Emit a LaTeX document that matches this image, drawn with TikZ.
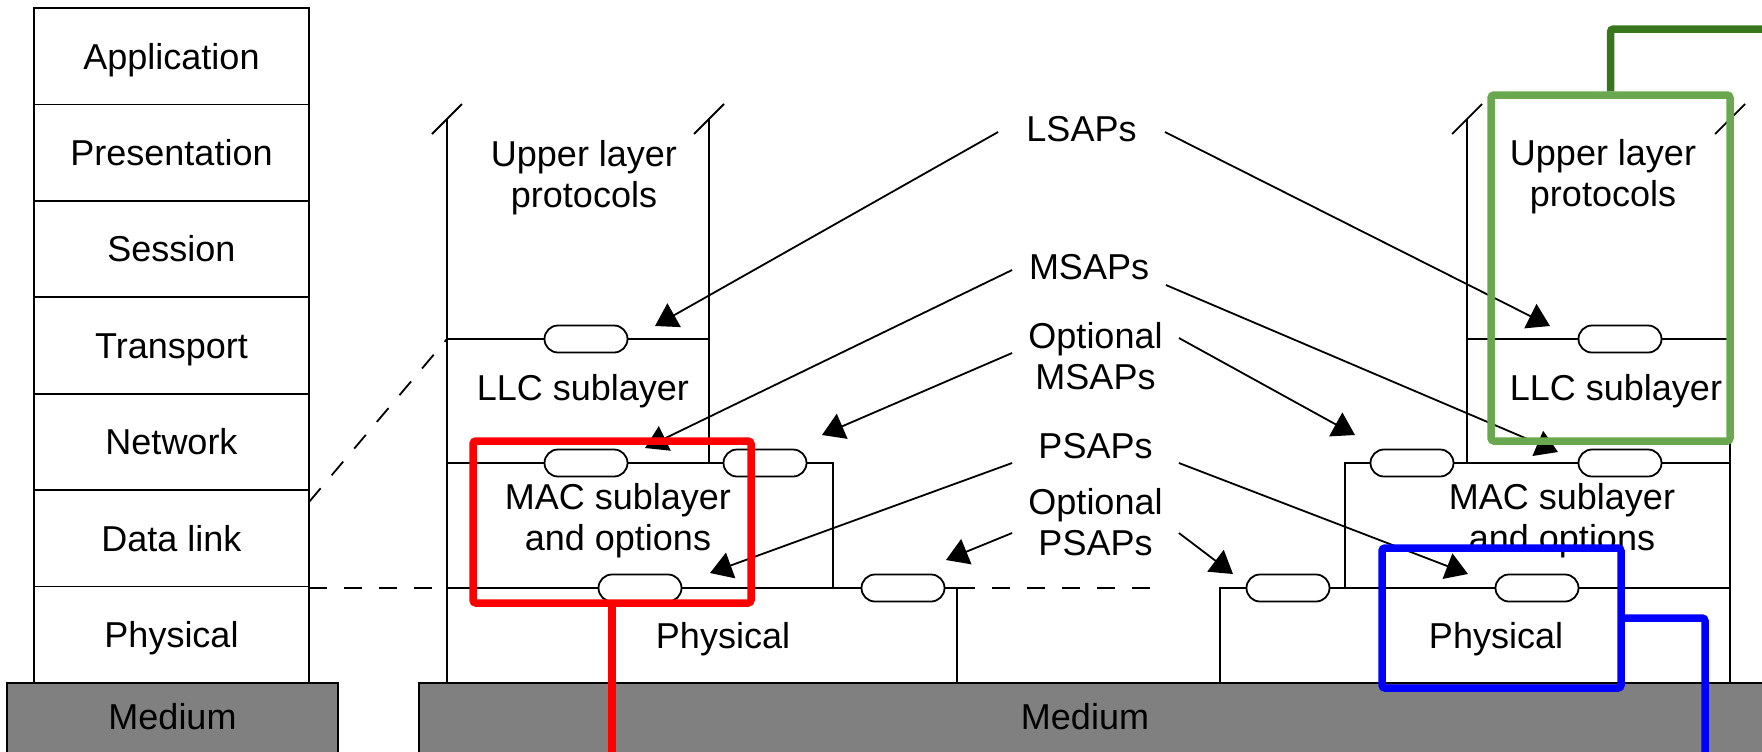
\documentclass[tikz,border=0pt]{standalone}
\usepackage{fontspec}
\setmainfont{Liberation Sans}
\usetikzlibrary{positioning,arrows.meta}

\definecolor{mediumgray}{RGB}{128,128,128}
\definecolor{boxgreen}{RGB}{106,168,79}
\definecolor{linegreen}{RGB}{56,118,29}

\tikzset{
  every node/.style={font=\fontsize{18}{20.5}\selectfont},
  layerrow/.style={draw,minimum width=137.5pt,minimum height=48.21pt,inner sep=0pt,outer sep=0pt,text height=12.9pt,text depth=0pt},
  sap/.style={draw,fill=white,rounded corners=6.75pt,minimum width=41.5pt,minimum height=13.5pt,inner sep=0pt},
  sapname/.style={align=center,minimum width=82.5pt,inner sep=0pt},
  saparrow/.style={-{Triangle[length=11pt,width=13.5pt]}},
  medium/.style={draw,fill=mediumgray},
  dashline/.style={dash pattern=on 9pt off 8.5pt},
  hilite/.style={draw,line width=3.75pt,rounded corners=1.5pt,inner sep=0pt}
}

\begin{document}
\begin{tikzpicture}[x=0.5pt,y=-0.5pt,line width=0.9pt]
\useasboundingbox (0,0) rectangle (1762,751);
\clip (0,0) rectangle (1762,751);

% medium
\draw[medium] (7,683) rectangle (338,760);
\draw[medium] (419,683) rectangle (1775,760);
\node (medL) at (172.5,717) {Medium};
\node (medR) at (1085,717) {Medium};

% OSI stack
\node[layerrow] (app) at (171.5,56.2) {Application};
\node[layerrow,below=0pt of app] (pres) {Presentation};
\node[layerrow,below=0pt of pres] (sess) {Session};
\node[layerrow,below=0pt of sess] (trans) {Transport};
\node[layerrow,below=0pt of trans] (net) {Network};
\node[layerrow,below=0pt of net] (dlink) {Data link};
\node[layerrow,below=0pt of dlink] (phys) {Physical};

% left station
\draw (447,119) -- (447,683);
\draw (709,119) -- (709,463);
\draw (447,339) -- (709,339);
\draw (447,463) -- (833,463) -- (833,588);
\draw (447,588) -- (957,588) -- (957,683);
\draw (432,134) -- (462,104);
\draw (694,134) -- (724,104);

% right station
\draw (1467,119) -- (1467,463);
\draw (1730,119) -- (1730,683);
\draw (1467,339) -- (1730,339);
\draw (1345,588) -- (1345,463) -- (1730,463);
\draw (1220,683) -- (1220,588) -- (1730,588);
\draw (1452,134) -- (1482,104);
\draw (1715,134) -- (1745,104);

% dashed links
\draw[dashline] (309,502) -- (447,339);
\draw[dashline] (309,588) -- (447,588);
\draw[dashline] (957,588) -- (1160,588);

% layer names
\node[align=center] (upperL) at (584,178) {Upper layer\\protocols};
\node (llcL) at (583,391) {LLC sublayer};
\node[align=center] (macL) at (618,521) {MAC sublayer\\and options};
\node (physL) at (723,639) {Physical};
\node[align=center] (upperR) at (1603,177) {Upper layer\\protocols};
\node (llcR) at (1616,391) {LLC sublayer};
\node[align=center] (macR) at (1562,521) {MAC sublayer\\and options};
\node (physR) at (1496,639) {Physical};

% service access points
\node[sap] (lsapL) at (586,339) {};
\node[sap] (msapL) at (586,463) {};
\node[sap] (omsapL) at (765,463) {};
\node[sap] (psapL) at (640,588) {};
\node[sap] (opsapL) at (903,588) {};
\node[sap] (lsapR) at (1620,339) {};
\node[sap] (msapR) at (1620,463) {};
\node[sap] (omsapR) at (1412,463) {};
\node[sap] (psapR) at (1537,588) {};
\node[sap] (opsapR) at (1288,588) {};

% SAP names
\node[sapname] (lsap) at (1081.5,129) {LSAPs};
\node[sapname,minimum width=76pt] (msap) at (1089,267) {MSAPs};
\node[sapname] (omsap) at (1095.5,356) {Optional\\MSAPs};
\node[sapname] (psap) at (1095.5,446) {PSAPs};
\node[sapname] (opsap) at (1095.5,522) {Optional\\PSAPs};

\draw[saparrow] ([yshift=-1.5pt]lsap.west) -- ([shift={(69,-13)}]lsapL.center);
\draw[saparrow] ([yshift=-1.5pt]lsap.east) -- ([shift={(-70,-13)}]lsapR.center);
\draw[saparrow] ([yshift=-1.5pt]msap.west) -- ([shift={(59,-15)}]msapL.center);
\draw[saparrow] ([yshift=-9pt]msap.east) -- ([shift={(-62,-11)}]msapR.center);
\draw[saparrow] ([yshift=1.5pt]omsap.west) -- ([shift={(57,-28)}]omsapL.center);
\draw[saparrow] ([yshift=9pt]omsap.east) -- ([shift={(-57,-28)}]omsapR.center);
\draw[saparrow] ([yshift=-8.5pt]psap.west) -- ([shift={(70,-15)}]psapL.center);
\draw[saparrow] ([yshift=-8.5pt]psap.east) -- ([shift={(-69,-14)}]psapR.center);
\draw[saparrow] ([yshift=-5.5pt]opsap.west) -- ([shift={(43,-28)}]opsapL.center);
\draw[saparrow] ([yshift=-5.5pt]opsap.east) -- ([shift={(-55,-14)}]opsapR.center);

% highlights
\node[hilite,draw=red,minimum width=139pt,minimum height=81pt] (redbox) at (612,522) {};
\node[hilite,draw=blue,minimum width=119.5pt,minimum height=70pt] (bluebox) at (1501.5,618) {};
\node[hilite,draw=boxgreen,minimum width=119.5pt,minimum height=173pt] (greenbox) at (1610.5,268) {};
\coordinate (redend) at (612,765);
\coordinate (blueend) at (1705,765);
\coordinate (greenend) at (1775,29);
\draw[red,line width=3.75pt] (redbox.south) -- (redend);
\draw[blue,line width=3.75pt,rounded corners=1.5pt] (bluebox.east) -| (blueend);
\draw[linegreen,line width=3.75pt,rounded corners=1.5pt] (greenbox.north) |- (greenend);

\end{tikzpicture}
\end{document}
